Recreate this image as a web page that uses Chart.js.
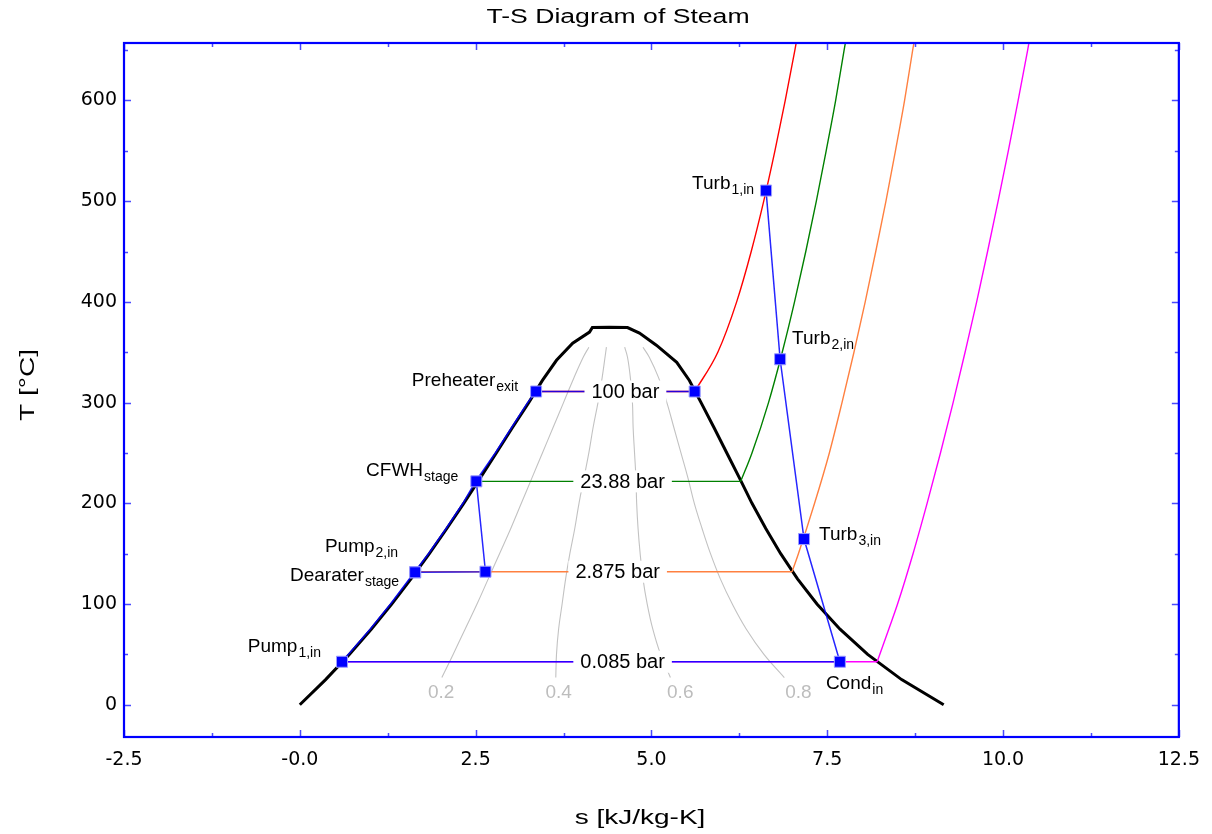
<!DOCTYPE html>
<html>
<head>
<meta charset="utf-8">
<title>T-S Diagram of Steam</title>
<script src="https://cdn.jsdelivr.net/npm/chart.js@4.4.1/dist/chart.umd.min.js"></script>
<style>
  body { margin: 0; background: #ffffff; }
  #wrap { width: 1212px; height: 834px; position: relative; }
</style>
</head>
<body>
<div id="wrap"><canvas id="myChart"></canvas></div>
<script>
// axis ticks
var xTicks = [-2.5, 0, 2.5, 5, 7.5, 10, 12.5];
var xTickLabels = ['-2.5', '-0.0', '2.5', '5.0', '7.5', '10.0', '12.5'];
var xMinor = [-1.25, 1.25, 3.75, 6.25, 8.75, 11.25];
var yTicks = [0, 100, 200, 300, 400, 500, 600];
var yTickLabels = ['0', '100', '200', '300', '400', '500', '600'];
var yMinor = [50, 150, 250, 350, 450, 550, 650];

// saturation dome (s in kJ/kg-K, T in C)
var domeS = [0.00, 0.367, 0.704, 1.016, 1.307, 1.581, 1.842, 2.091, 2.331, 2.564, 2.794, 3.022, 3.255, 3.45, 3.65, 3.88, 4.12, 4.16, 4.40, 4.66, 4.83, 5.07, 5.36, 5.54, 5.706, 5.891, 6.072, 6.253, 6.430, 6.626, 6.838, 7.077, 7.354, 7.682, 8.075, 8.558, 9.156];
var domeT = [0, 25, 50, 75, 100, 125, 150, 175, 200, 225, 250, 275, 300, 322, 342, 359, 370, 374.5, 374.8, 374.5, 369, 357, 340, 322, 300, 275, 250, 225, 200, 175, 150, 125, 100, 75, 50, 25, 0];

// quality lines
var qualityT = [27, 50, 75, 100, 125, 150, 175, 200, 225, 250, 275, 300, 325, 345, 355];
var q02 = [2.02, 2.18, 2.35, 2.52, 2.68, 2.84, 3.00, 3.15, 3.30, 3.45, 3.60, 3.75, 3.90, 4.03, 4.11];
var q04 = [3.64, 3.65, 3.68, 3.73, 3.78, 3.84, 3.91, 3.97, 4.04, 4.11, 4.17, 4.24, 4.30, 4.34, 4.36];
var q06 = [5.27, 5.13, 5.02, 4.94, 4.88, 4.84, 4.81, 4.79, 4.78, 4.76, 4.74, 4.73, 4.70, 4.66, 4.62];
var q08 = [6.89, 6.60, 6.35, 6.15, 5.98, 5.84, 5.72, 5.61, 5.52, 5.42, 5.32, 5.22, 5.10, 4.97, 4.88];
var qualityNames = ['0.2', '0.4', '0.6', '0.8'];
var qualityLabelS = [2.01, 3.68, 5.41, 7.09];
var qualityLabelT = 12;

// isobars: name, saturation temperature, liquid / vapour entropy
var isobarNames = ['100 bar', '23.88 bar', '2.875 bar', '0.085 bar'];
var isobarColors = ['#ff0000', '#008000', '#ff8040', '#ff00ff'];
var isobarTsat = [311.0, 221.8, 132.1, 42.7];
var isobarSliq = [3.36, 2.52, 1.665, 0.60];
var isobarSvap = [5.615, 6.27, 7.00, 8.21];
var isobarLabelS = [4.63, 4.59, 4.52, 4.59];

// superheated branches
var p100S = [5.615, 5.944, 6.212, 6.419, 6.597, 6.756, 6.903, 7.040, 7.066];
var p100T = [311, 350, 400, 450, 500, 550, 600, 650, 660];
var p2388S = [6.27, 6.43, 6.665, 6.86, 7.035, 7.195, 7.345, 7.485, 7.62, 7.74, 7.765];
var p2388T = [221.8, 250, 300, 350, 400, 450, 500, 550, 600, 650, 660];
var p2875S = [7.00, 7.09, 7.32, 7.53, 7.71, 7.88, 8.04, 8.19, 8.335, 8.47, 8.60, 8.715, 8.74];
var p2875T = [132.1, 150, 200, 250, 300, 350, 400, 450, 500, 550, 600, 650, 660];
var p0085S = [8.21, 8.385, 8.50, 8.72, 8.92, 9.11, 9.29, 9.46, 9.625, 9.78, 9.93, 10.075, 10.215, 10.35, 10.375];
var p0085T = [42.7, 77, 100, 150, 200, 250, 300, 350, 400, 450, 500, 550, 600, 650, 660];

// cycle state points
var stateNames = ['Pump', 'Dearater', 'Pump', 'CFWH', 'Preheater', '', 'Turb', 'Turb', 'Turb', 'Cond', ''];
var stateSubs = ['1,in', 'stage', '2,in', 'stage', 'exit', '', '1,in', '2,in', '3,in', 'in', ''];
var stateS = [0.60, 1.64, 1.64, 2.51, 3.36, 5.615, 6.63, 6.83, 7.17, 7.68, 2.64];
var stateT = [42.7, 131.5, 131.5, 221.8, 311.0, 311.0, 510.5, 343, 164.5, 42.7, 132.1];

// cycle paths
var liquidS = [0.59, 0.69, 1.00, 1.29, 1.63, 1.83, 2.08, 2.32, 2.50, 2.78, 3.01, 3.24, 3.36];
var liquidT = [42.7, 50, 75, 100, 131.5, 150, 175, 200, 221.8, 250, 275, 300, 311];
var turbineS = [6.63, 6.83, 7.17, 7.68];
var turbineT = [510.5, 343, 164.5, 42.7];
var drainS = [2.51, 2.64, 1.64];
var drainT = [221.8, 132.1, 131.5];

function pts(sArr, tArr) {
  return sArr.map(function (s, i) { return { x: s, y: tArr[i] }; });
}

function line(data, color, width, tension) {
  return {
    data: data,
    showLine: true,
    borderColor: color,
    borderWidth: width,
    pointRadius: 0,
    pointHoverRadius: 0,
    tension: tension || 0,
    fill: false
  };
}

var cycleColor = 'rgba(0,0,255,0.85)';
var datasets = [];

// markers on top
datasets.push({
  data: pts(stateS, stateT),
  showLine: false,
  pointStyle: 'rect',
  pointRadius: 7.8,
  pointHoverRadius: 7.8,
  backgroundColor: '#0000ff',
  borderColor: '#9c9cff',
  borderWidth: 1
});

// cycle lines
datasets.push(line(pts(liquidS, liquidT), cycleColor, 1.6));
datasets.push(line(pts([isobarSliq[0], isobarSvap[0]], [isobarTsat[0], isobarTsat[0]]), cycleColor, 1.6));
datasets.push(line(pts(turbineS, turbineT), cycleColor, 1.5));
datasets.push(line(pts([stateS[9], stateS[0]], [stateT[9], stateT[0]]), cycleColor, 1.6));
datasets.push(line(pts(drainS, drainT), cycleColor, 1.5));

// isobars
var superS = [p100S, p2388S, p2875S, p0085S];
var superT = [p100T, p2388T, p2875T, p0085T];
for (var i = 0; i < isobarNames.length; i++) {
  datasets.push(line(pts([isobarSliq[i], isobarSvap[i]], [isobarTsat[i], isobarTsat[i]]), isobarColors[i], 1.4));
  var d = line(pts(superS[i], superT[i]), isobarColors[i], 1.4);
  d.cubicInterpolationMode = 'monotone';
  datasets.push(d);
}

// quality lines
[q02, q04, q06, q08].forEach(function (q) {
  datasets.push(line(pts(q, qualityT), '#c2c2c2', 1.1, 0.4));
});

// dome last (bottom)
datasets.push(line(pts(domeS, domeT), '#000000', 3));

var labelFont = 'Arial, "Liberation Sans", sans-serif';

// label placement for the state points
var labelPlace = [
  { align: 'right', dx: -21, dy: -10 },
  { align: 'right', dx: -16, dy: 9 },
  { align: 'right', dx: -17, dy: -20 },
  { align: 'right', dx: -18, dy: -5 },
  { align: 'right', dx: -18, dy: -6 },
  null,
  { align: 'right', dx: -12, dy: -2 },
  { align: 'left', dx: 12, dy: -15 },
  { align: 'left', dx: 15, dy: 1 },
  { align: 'left', dx: -14, dy: 27 },
  null
];

function stretchText(ctx, text, x, y, sx, rot) {
  ctx.save();
  ctx.translate(x, y);
  ctx.rotate(rot || 0);
  ctx.scale(sx, 1);
  ctx.fillText(text, 0, 0);
  ctx.restore();
}

var extras = {
  id: 'extras',
  afterDatasetsDraw: function (chart) {
    var ctx = chart.ctx;
    var xs = chart.scales.x, ys = chart.scales.y;
    ctx.save();

    // isobar labels with white box
    ctx.font = '20px ' + labelFont;
    ctx.textAlign = 'center';
    ctx.textBaseline = 'middle';
    for (var i = 0; i < isobarNames.length; i++) {
      var px = xs.getPixelForValue(isobarLabelS[i]);
      var py = ys.getPixelForValue(isobarTsat[i]);
      var w = ctx.measureText(isobarNames[i]).width + 14;
      ctx.fillStyle = '#ffffff';
      ctx.fillRect(px - w / 2, py - 11, w, 22);
      ctx.fillStyle = '#000000';
      ctx.fillText(isobarNames[i], px, py + 1);
    }

    // quality labels
    ctx.font = '19px ' + labelFont;
    ctx.fillStyle = '#bdbdbd';
    for (var j = 0; j < qualityNames.length; j++) {
      ctx.fillText(qualityNames[j], xs.getPixelForValue(qualityLabelS[j]), ys.getPixelForValue(qualityLabelT));
    }

    // state point labels with subscripts
    ctx.textBaseline = 'alphabetic';
    ctx.textAlign = 'left';
    ctx.fillStyle = '#000000';
    for (var k = 0; k < stateNames.length; k++) {
      var pl = labelPlace[k];
      if (!pl) continue;
      var mx = xs.getPixelForValue(stateS[k]);
      var my = ys.getPixelForValue(stateT[k]);
      ctx.font = '19px ' + labelFont;
      var wMain = ctx.measureText(stateNames[k]).width;
      ctx.font = '14px ' + labelFont;
      var wSub = ctx.measureText(stateSubs[k]).width;
      var x0 = pl.align === 'right' ? mx + pl.dx - wMain - wSub - 1 : mx + pl.dx;
      var base = my + pl.dy;
      ctx.font = '19px ' + labelFont;
      ctx.fillText(stateNames[k], x0, base);
      ctx.font = '14px ' + labelFont;
      ctx.fillText(stateSubs[k], x0 + wMain + 1, base + 5);
    }
    ctx.restore();
  },
  afterDraw: function (chart) {
    var ctx = chart.ctx;
    var a = chart.chartArea;
    var xs = chart.scales.x, ys = chart.scales.y;
    ctx.save();

    // inward ticks on all four sides
    ctx.strokeStyle = '#4a4aff';
    ctx.lineWidth = 1.5;
    function tickX(v, len) {
      var p = Math.round(xs.getPixelForValue(v)) + 0.5;
      ctx.beginPath();
      ctx.moveTo(p, a.bottom); ctx.lineTo(p, a.bottom - len);
      ctx.moveTo(p, a.top); ctx.lineTo(p, a.top + len);
      ctx.stroke();
    }
    function tickY(v, len) {
      var p = Math.round(ys.getPixelForValue(v)) + 0.5;
      ctx.beginPath();
      ctx.moveTo(a.left, p); ctx.lineTo(a.left + len, p);
      ctx.moveTo(a.right, p); ctx.lineTo(a.right - len, p);
      ctx.stroke();
    }
    xTicks.forEach(function (v) { tickX(v, 7); });
    xMinor.forEach(function (v) { tickX(v, 4); });
    yTicks.forEach(function (v) { tickY(v, 7); });
    yMinor.forEach(function (v) { tickY(v, 4); });

    // frame
    ctx.strokeStyle = '#0000ff';
    ctx.lineWidth = 2.2;
    ctx.strokeRect(a.left, a.top, a.right - a.left, a.bottom - a.top);

    // titles
    ctx.fillStyle = '#000000';
    ctx.textAlign = 'center';
    ctx.textBaseline = 'middle';
    ctx.font = '20px ' + labelFont;
    stretchText(ctx, 'T-S Diagram of Steam', 618, 17, 1.33, 0);
    ctx.font = '20px ' + labelFont;
    stretchText(ctx, 's [kJ/kg-K]', 640, 818, 1.4, 0);
    stretchText(ctx, 'T [°C]', 28, 385, 1.4, -Math.PI / 2);
    ctx.restore();
  }
};

var graph = document.getElementById('myChart');

var myChart = new Chart(graph, {
  type: 'scatter',
  data: { datasets: datasets },
  options: {
    responsive: true,
    maintainAspectRatio: false,
    animation: false,
    events: [],
    layout: { padding: { left: 0, right: 32, top: 43, bottom: 0 } },
    plugins: {
      legend: { display: false },
      title: { display: false },
      tooltip: { enabled: false }
    },
    scales: {
      x: {
        type: 'linear',
        min: -2.5,
        max: 12.5,
        afterBuildTicks: function (s) { s.ticks = xTicks.map(function (v) { return { value: v }; }); },
        afterFit: function (s) { s.height = 97; },
        grid: { display: false, drawTicks: false },
        border: { display: false },
        ticks: {
          autoSkip: false,
          maxRotation: 0,
          padding: 12,
          color: '#000000',
          font: { family: '"DejaVu Sans"', size: 19 },
          callback: function (v) { return xTickLabels[xTicks.indexOf(v)]; }
        }
      },
      y: {
        type: 'linear',
        min: -32,
        max: 657,
        afterBuildTicks: function (s) { s.ticks = yTicks.map(function (v) { return { value: v }; }); },
        afterFit: function (s) { s.width = 124; },
        grid: { display: false, drawTicks: false },
        border: { display: false },
        ticks: {
          autoSkip: false,
          padding: 7,
          color: '#000000',
          font: { family: '"DejaVu Sans"', size: 19 },
          callback: function (v) { return yTickLabels[yTicks.indexOf(v)]; }
        }
      }
    }
  },
  plugins: [extras]
}); // ends chart
</script>
</body>
</html>
